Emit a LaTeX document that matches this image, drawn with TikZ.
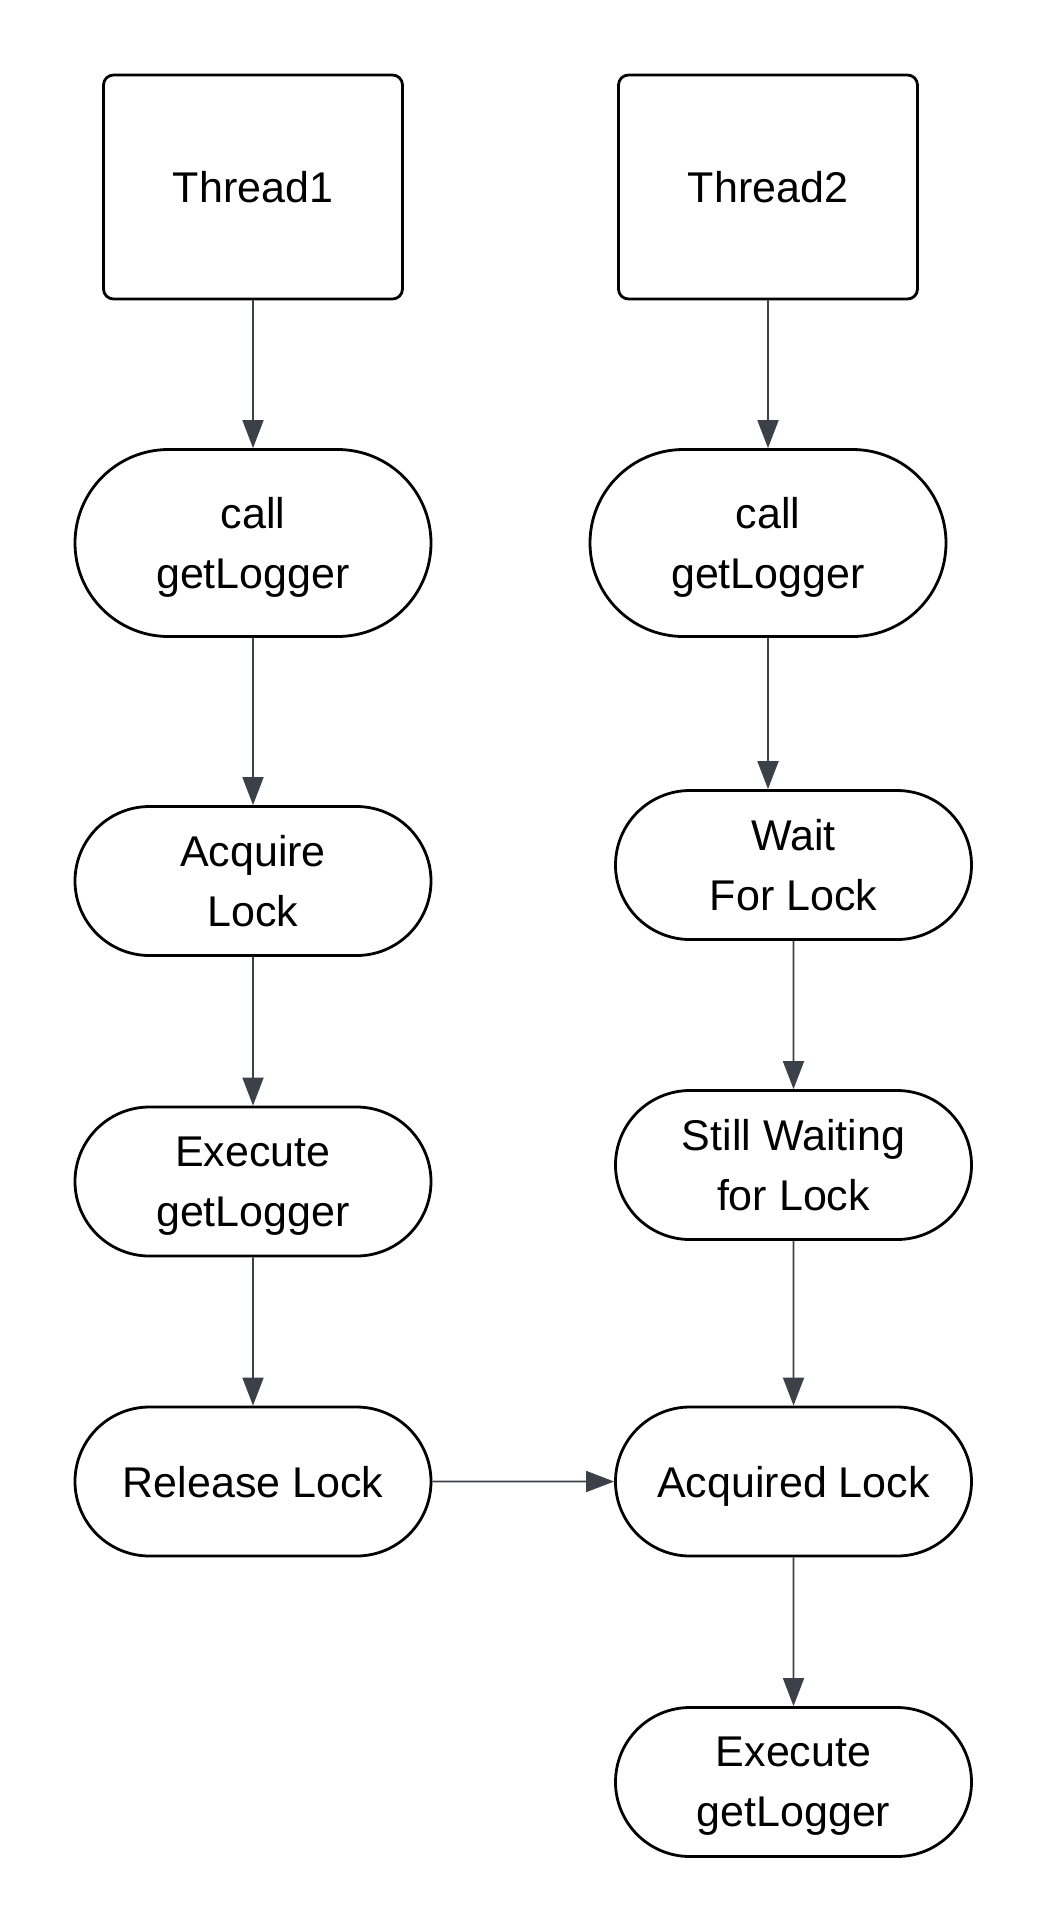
\documentclass[tikz,border=0pt]{standalone}
\usepackage{fontspec}
\setmainfont{Liberation Sans}
\usetikzlibrary{arrows.meta,shapes.misc}
\definecolor{edgegray}{HTML}{3B4049}
\begin{document}
\begin{tikzpicture}[x=1pt,y=-1pt,>={Triangle[length=28pt,width=21pt]},
    thread/.style={draw,line width=2.8pt,rounded corners=10pt,minimum width=299pt,minimum height=224pt,font=\fontsize{43}{60}\selectfont},
    pill/.style={draw,line width=2.8pt,rounded rectangle,minimum width=356pt,minimum height=149pt,inner sep=0pt,align=center,text depth=0pt,font=\fontsize{43}{60}\selectfont},
    flow/.style={->,draw=edgegray,fill=edgegray,line width=1.8pt}]
        \useasboundingbox(0,0)rectangle(1046,1931);
        % thread 1
        \node[thread](t1)at(253,187){Thread1};
        \node[pill,minimum height=187pt](call1)at(253,543){call\\getLogger};
        \node[pill](acq1)at(253,881){Acquire\\Lock};
        \node[pill](exec1)at(253,1181.5){Execute\\getLogger};
        \node[pill](rel1)at(253,1481.5){Release Lock};
        % thread 2
        \node[thread](t2)at(768,187){Thread2};
        \node[pill,minimum height=187pt](call2)at(768,543){call\\getLogger};
        \node[pill](wait2)at(793.5,865){Wait\\For Lock};
        \node[pill](still2)at(793.5,1165){Still Waiting\\for Lock};
        \node[pill](acq2)at(793.5,1481.5){Acquired Lock};
        \node[pill](exec2)at(793.5,1782){Execute\\getLogger};
        \draw[flow](t1)--(call1);\draw[flow](call1)--(acq1);
        \draw[flow](acq1)--(exec1);\draw[flow](exec1)--(rel1);
        \draw[flow](t2)--(call2);\draw[flow](call2.south)--(call2.south|-wait2.north);
        \draw[flow](wait2)--(still2);\draw[flow](still2)--(acq2);
        \draw[flow](acq2)--(exec2);\draw[flow](rel1)--(acq2);
    \end{tikzpicture}
\end{document}
